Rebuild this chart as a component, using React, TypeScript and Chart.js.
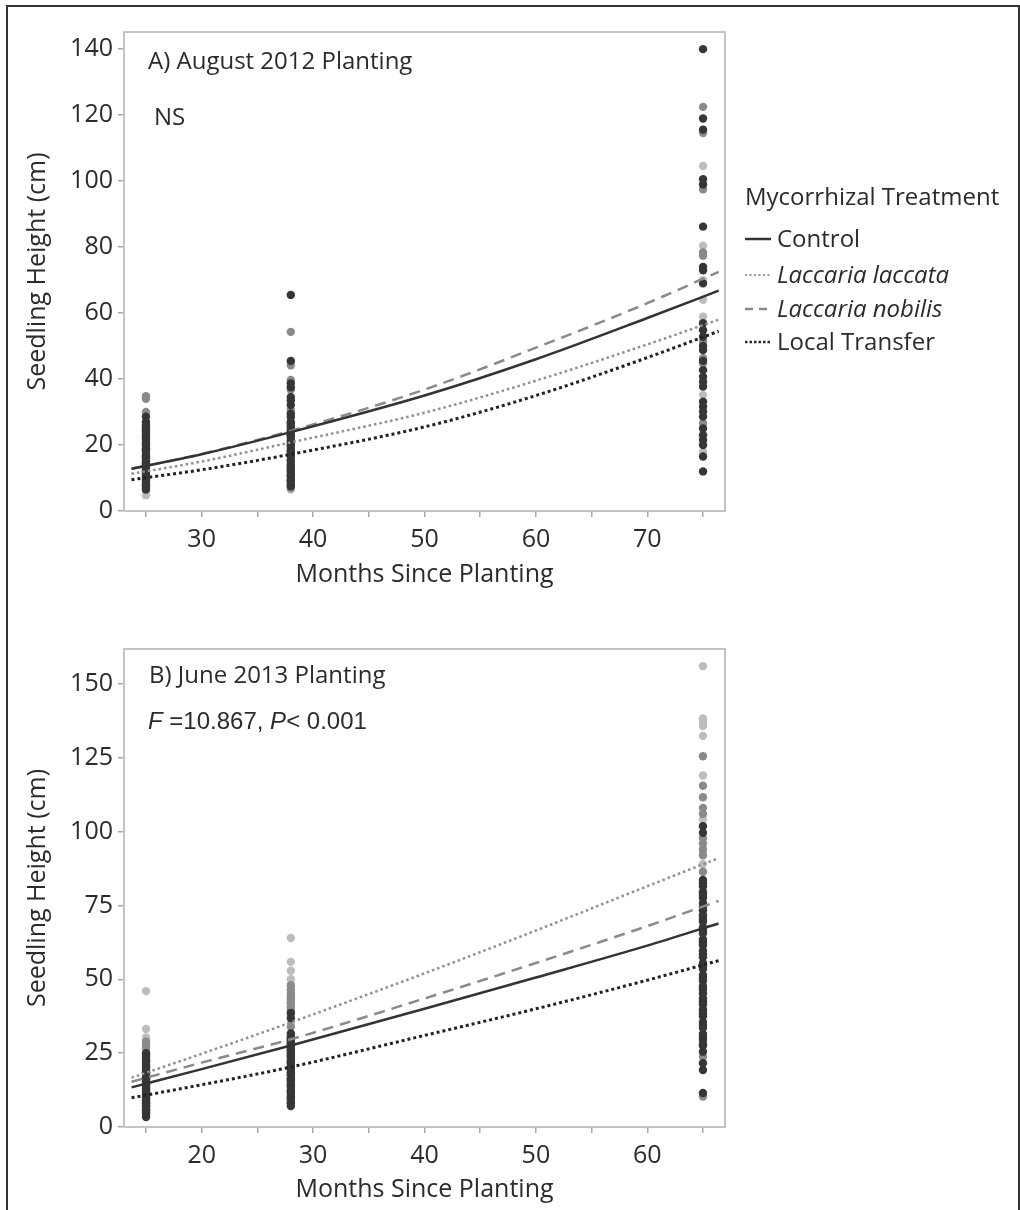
import React, { useEffect, useRef } from 'react';
import { Chart, registerables } from 'chart.js';

Chart.register(...registerables);

// ---------- data ----------
const GROUPS = ['Control', 'Laccaria laccata', 'Laccaria nobilis', 'Local Transfer'];

// Panel A: August 2012 planting
const A_MONTHS = [25, 38, 75];
const A_CONTROL = [
  [28.6, 26, 25, 24, 23, 22, 21, 20, 19, 18, 17, 16, 15, 14, 13, 12, 11, 10, 9, 8],
  [65.5, 45.5, 38.7, 34.5, 32.1, 28.5, 27, 25.5, 24, 22.5, 21, 19.5, 18, 16.5, 15, 13.5, 12, 10.5, 9, 7.5],
  [140, 119, 115.6, 100.6, 86.2, 74, 69, 56.9, 52.8, 48.8, 42.7, 39.2, 33.1, 30.1, 25, 21.5, 16.5],
];
const A_LACCATA = [
  [4.8, 6, 8.5, 12, 15, 19, 22],
  [6.5, 11, 18, 26, 29.5],
  [104.6, 80.4, 70, 64, 58.9, 35.2, 18],
];
const A_NOBILIS = [
  [34.8, 34, 30, 27, 25.5, 23.5, 21.5, 18.5, 16.5, 13.5, 10.5, 8, 7],
  [54.3, 44.2, 39.7, 36.7, 30.6, 23, 17, 13, 9, 7],
  [122.5, 114.6, 97.5, 78.4, 77.4, 51.3, 46.3, 44.8, 26.6],
];
const A_LOCAL = [
  [27, 24.5, 22.5, 20.5, 18.5, 16.5, 14.5, 12.5, 11.5, 9.5, 7.5, 6.5],
  [37.5, 33.5, 29.5, 26.5, 24.5, 23, 21.5, 20, 18.5, 17, 15.5, 14, 12.5, 11, 9.5, 8],
  [99, 73, 54.8, 50, 45.5, 40.7, 37.7, 31.6, 28.6, 23, 20, 12],
];
const A_FIT_MONTHS = [23.7, 30, 38, 50, 60, 70, 76.4];
const A_FIT_CONTROL = [12.8, 17.2, 23.9, 35, 46, 58.5, 66.8];
const A_FIT_LACCATA = [11.3, 15, 20.8, 29.8, 39.5, 50.5, 58];
const A_FIT_NOBILIS = [12.7, 17.3, 24.3, 36.8, 49.5, 63, 72.5];
const A_FIT_LOCAL = [9.5, 12.5, 17.2, 25.5, 35, 46.5, 54.5];
const A_Y_TICK_STEP = 20;

// Panel B: June 2013 planting
const B_MONTHS = [15, 28, 65];
const B_CONTROL = [
  [25, 24, 23, 22, 21, 20, 19, 18, 17, 16, 15, 14, 13, 12, 11, 10, 9, 8, 7, 6, 5],
  [38.6, 36.8, 31.7, 30.5, 29.5, 28.5, 27.5, 26.5, 25.5, 24.5, 23.5, 22.5, 21.5, 20.5, 19.5, 18.5, 17.5, 16.5, 15.5, 14.5, 13.5, 12.5, 11.5, 10.5, 9.5, 8.5],
  [101.8, 99.6, 83.6, 81.5, 79.5, 77.5, 75.8, 73.4, 71.5, 69.5, 67.5, 65.5, 63.5, 61.5, 59.5, 57.5, 55.5, 53.5, 51.5, 49.5, 47.5, 45.3, 43.6, 41.5, 39.5, 37.5, 35.5, 33.5, 31.5, 29.5, 27.5, 21.6, 19.3, 11.5],
];
const B_LACCATA = [
  [46, 33.2, 30.3, 29.5, 27.5, 26, 24.5, 21, 17, 12, 8, 4],
  [64, 55.9, 52.9, 50, 47, 44.5, 42, 38, 35, 31, 27],
  [156, 138.3, 137.1, 135.7, 132.4, 119, 104.2, 93.5, 89, 80, 70, 60],
];
const B_NOBILIS = [
  [28.9, 27.8, 26.7, 23.8, 22, 20, 18.3, 16, 13, 10, 7],
  [48, 46.3, 45, 43.7, 43, 41.9, 40.7, 39.6, 33.9, 29, 25, 20],
  [125.5, 115.5, 111.6, 108, 106, 97.8, 96, 94, 92, 86.4, 77.9, 72, 63, 55, 48, 40, 23.8, 10.3],
];
const B_LOCAL = [
  [22.5, 20.5, 18.5, 16.5, 15.5, 14.5, 13.5, 12.5, 11.5, 10.5, 9.5, 8.5, 7.5, 6.5, 5.5, 4.5, 3.4],
  [30, 28, 26, 24, 22, 20, 18, 16, 14, 12, 10, 8, 7.1],
  [82.5, 78.5, 74.5, 70.5, 66.5, 62.5, 58.5, 54.5, 50.5, 46.5, 42.5, 38.5, 34.5, 30.5, 28, 25.5],
];
const B_FIT_MONTHS = [13.7, 20, 28, 40, 50, 60, 66.4];
const B_FIT_CONTROL = [13.4, 19.6, 27.6, 40, 50.6, 61.4, 68.9];
const B_FIT_LACCATA = [16.7, 24.8, 35.4, 52, 66.5, 81.5, 91];
const B_FIT_NOBILIS = [15.3, 21.8, 29.7, 43.5, 55.5, 68, 76.5];
const B_FIT_LOCAL = [9.9, 14.3, 20.3, 31, 40, 49.7, 56.3];
const B_Y_TICK_STEP = 25;

// ---------- styles ----------
const FONT = "'Open Sans', 'Noto Sans', sans-serif";
const TEXT = '#2b2b2b';
const POINT_COLORS = ['#363636', '#bdbdbd', '#8a8a8a', '#363636'];
const POINT_ORDER = [1, 3, 2, 1];
const LINE_COLORS = ['#333333', '#8f8f8f', '#8a8a8a', '#222222'];
const LINE_WIDTHS = [2.5, 2.5, 2.5, 3];
const LINE_DASH: number[][] = [[], [2.5, 3], [11, 7], [3, 3]];

type PanelSpec = {
  months: number[];
  heights: number[][][];
  fitMonths: number[];
  fits: number[][];
  xMin: number; xMax: number; yMax: number; yStep: number;
  padTop: number; padBottom: number; xAxisHeight: number;
  width: number; height: number;
};

const framePlugin = {
  id: 'plotFrame',
  beforeDatasetsDraw(chart: any) {
    const { ctx, chartArea } = chart;
    ctx.save();
    ctx.strokeStyle = '#c4c4c4';
    ctx.lineWidth = 2;
    ctx.strokeRect(chartArea.left, chartArea.top, chartArea.right - chartArea.left, chartArea.bottom - chartArea.top);
    ctx.restore();
  },
};

function buildConfig(p: PanelSpec): any {
  const datasets: any[] = [];
  GROUPS.forEach((g, gi) => {
    datasets.push({
      type: 'line',
      label: g,
      data: p.fitMonths.map((m, i) => ({ x: m, y: p.fits[gi][i] })),
      showLine: true,
      borderColor: LINE_COLORS[gi],
      borderWidth: LINE_WIDTHS[gi],
      borderDash: LINE_DASH[gi],
      borderCapStyle: 'butt',
      pointRadius: 0,
      cubicInterpolationMode: 'monotone',
      fill: false,
      order: 0,
    });
  });
  GROUPS.forEach((g, gi) => {
    const pts: { x: number; y: number }[] = [];
    p.months.forEach((m, mi) => p.heights[gi][mi].forEach((h) => pts.push({ x: m, y: h })));
    datasets.push({
      type: 'scatter',
      label: g + ' (observed)',
      data: pts,
      backgroundColor: POINT_COLORS[gi],
      borderWidth: 0,
      pointRadius: 4.2,
      order: POINT_ORDER[gi],
    });
  });

  const tickFont = { family: FONT, size: 25 };
  const titleFont = { family: FONT, size: 25 };
  return {
    type: 'scatter',
    data: { datasets },
    options: {
      responsive: false,
      animation: false,
      devicePixelRatio: 1,
      events: [],
      layout: { padding: { left: 23, right: 295, top: p.padTop, bottom: p.padBottom } },
      plugins: { legend: { display: false }, tooltip: { enabled: false } },
      scales: {
        x: {
          type: 'linear',
          min: p.xMin,
          max: p.xMax,
          afterFit: (s: any) => { s.height = p.xAxisHeight; },
          border: { display: true, color: '#c4c4c4', width: 2 },
          grid: { display: true, drawOnChartArea: false, drawTicks: true, tickLength: 6, color: '#a8a8a8', lineWidth: 1.5 },
          ticks: {
            stepSize: 5,
            includeBounds: false,
            autoSkip: false,
            maxRotation: 0,
            padding: 8,
            color: TEXT,
            font: tickFont,
            callback: (v: any) => (Number(v) % 10 === 0 ? String(v) : ''),
          },
          title: { display: true, text: 'Months Since Planting', color: TEXT, font: titleFont, padding: 0 },
        },
        y: {
          type: 'linear',
          min: 0,
          max: p.yMax,
          afterFit: (s: any) => { s.width = 101; },
          border: { display: true, color: '#c4c4c4', width: 2 },
          grid: { display: true, drawOnChartArea: false, drawTicks: true, tickLength: 6, color: '#a8a8a8', lineWidth: 1.5 },
          ticks: {
            stepSize: p.yStep,
            includeBounds: false,
            autoSkip: false,
            padding: 5,
            color: TEXT,
            font: tickFont,
          },
          title: { display: true, text: 'Seedling Height (cm)', color: TEXT, font: titleFont, padding: 0 },
        },
      },
    },
    plugins: [framePlugin],
  };
}

function Panel({ spec, top }: { spec: PanelSpec; top: number }) {
  const ref = useRef<HTMLCanvasElement | null>(null);
  useEffect(() => {
    if (!ref.current) return;
    const chart = new Chart(ref.current, buildConfig(spec));
    return () => chart.destroy();
  }, [spec]);
  return (
    <canvas
      ref={ref}
      width={spec.width}
      height={spec.height}
      style={{ position: 'absolute', left: 0, top, width: spec.width, height: spec.height }}
    />
  );
}

const PANEL_A: PanelSpec = {
  months: A_MONTHS,
  heights: [A_CONTROL, A_LACCATA, A_NOBILIS, A_LOCAL],
  fitMonths: A_FIT_MONTHS,
  fits: [A_FIT_CONTROL, A_FIT_LACCATA, A_FIT_NOBILIS, A_FIT_LOCAL],
  xMin: 23.03, xMax: 76.97, yMax: 145.2, yStep: A_Y_TICK_STEP,
  padTop: 32, padBottom: 20, xAxisHeight: 79,
  width: 1020, height: 610,
};

const PANEL_B: PanelSpec = {
  months: B_MONTHS,
  heights: [B_CONTROL, B_LACCATA, B_NOBILIS, B_LOCAL],
  fitMonths: B_FIT_MONTHS,
  fits: [B_FIT_CONTROL, B_FIT_LACCATA, B_FIT_NOBILIS, B_FIT_LOCAL],
  xMin: 13.02, xMax: 66.98, yMax: 161.8, yStep: B_Y_TICK_STEP,
  padTop: 39, padBottom: 5, xAxisHeight: 78,
  width: 1020, height: 600,
};

const LEGEND_SAMPLES = [
  { color: '#333333', width: 2.5, dash: '' },
  { color: '#9a9a9a', width: 2, dash: '2 2.5' },
  { color: '#8a8a8a', width: 2.5, dash: '8 6' },
  { color: '#2a2a2a', width: 2.5, dash: '2.5 2' },
];
const LEGEND_ROW_TOPS = [226, 262, 296, 329];

const textStyle = (left: number, top: number, extra: React.CSSProperties = {}): React.CSSProperties => ({
  position: 'absolute',
  left,
  top,
  fontFamily: FONT,
  fontSize: 24,
  lineHeight: 1,
  color: TEXT,
  whiteSpace: 'nowrap',
  ...extra,
});

export default function App() {
  return (
    <div style={{ position: 'absolute', left: 0, top: 0, width: 1020, height: 1210, overflow: 'hidden', background: '#ffffff' }}>
      <Panel spec={PANEL_A} top={0} />
      <Panel spec={PANEL_B} top={610} />

      <div style={textStyle(148, 48)}>A) August 2012 Planting</div>
      <div style={textStyle(154, 104)}>NS</div>
      <div style={textStyle(149, 662)}>B) June 2013 Planting</div>
      <div style={textStyle(148, 709, { fontFamily: "'Liberation Sans', Arial, sans-serif" })}>
        <i>F</i> =10.867, <i>P</i>&lt; 0.001
      </div>

      <div style={textStyle(745, 184)}>Mycorrhizal Treatment</div>
      {GROUPS.map((g, i) => (
        <React.Fragment key={g}>
          <svg
            width={27}
            height={10}
            style={{ position: 'absolute', left: 745, top: LEGEND_ROW_TOPS[i] + 8 }}
          >
            <line
              x1={0}
              y1={5}
              x2={26}
              y2={5}
              stroke={LEGEND_SAMPLES[i].color}
              strokeWidth={LEGEND_SAMPLES[i].width}
              strokeDasharray={LEGEND_SAMPLES[i].dash || undefined}
            />
          </svg>
          <div style={textStyle(777, LEGEND_ROW_TOPS[i], { fontStyle: i === 1 || i === 2 ? 'italic' : 'normal' })}>{g}</div>
        </React.Fragment>
      ))}

      <div
        style={{
          position: 'absolute',
          left: 6,
          top: 5,
          width: 1010,
          height: 1300,
          borderLeft: '2px solid #333',
          borderTop: '2px solid #333',
          borderRight: '2px solid #333',
          pointerEvents: 'none',
        }}
      />
    </div>
  );
}
